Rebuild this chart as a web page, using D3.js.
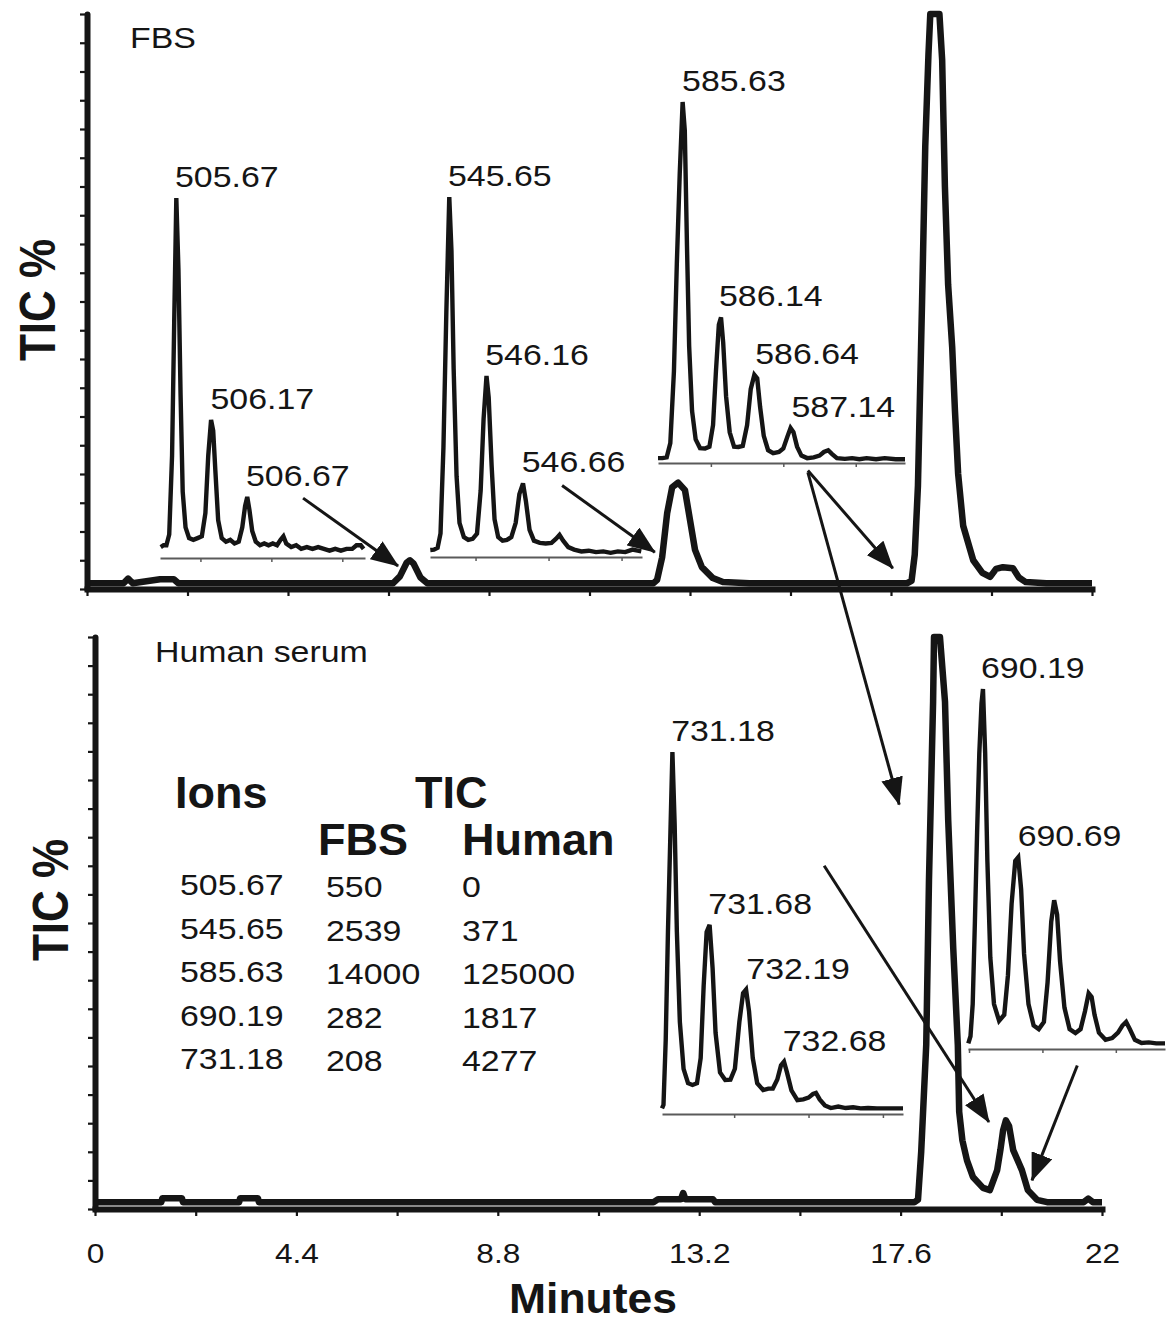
<!DOCTYPE html>
<html><head><meta charset="utf-8">
<script src="https://cdn.jsdelivr.net/npm/d3@7"></script>
<style>html,body{margin:0;padding:0;background:#fff}svg{display:block}text{font-family:"Liberation Sans",Arial,sans-serif;fill:#151515}</style>
</head><body>
<script>
// ---------------- DATA ----------------
const xTickValues = [0, 2.2, 4.4, 6.6, 8.8, 11, 13.2, 15.4, 17.6, 19.8, 22];
const xTickLabels = ['0', '4.4', '8.8', '13.2', '17.6', '22'];
const xLabeledValues = [0, 4.4, 8.8, 13.2, 17.6, 22];
const yTickValues = [0,5,10,15,20,25,30,35,40,45,50,55,60,65,70,75,80,85,90,95,100];

// chromatograms: [minutes, TIC %]
const fbsChrom = [[0,1],[0.8,1],[0.9,1.8],[1.0,1],[1.6,1.7],[1.9,1.7],[2.0,1],[6.7,1],[6.85,2.2],[7.0,4.6],[7.07,5.0],[7.15,4.4],[7.3,2.0],[7.45,1],[12.4,1],[12.48,1.6],[12.59,5.5],[12.70,13.2],[12.81,17.7],[12.94,18.5],[13.09,17.2],[13.20,12],[13.31,6.8],[13.46,3.8],[13.70,1.9],[13.92,1.2],[14.5,1],[17.95,1],[18.05,1.4],[18.12,6],[18.19,18],[18.28,50],[18.35,77],[18.42,93],[18.46,100],[18.66,100],[18.72,92],[18.78,70],[18.85,53],[18.94,42],[19.0,31],[19.07,20],[19.18,11],[19.4,5],[19.6,2.8],[19.77,2.1],[19.9,3.5],[20.05,3.8],[20.27,3.6],[20.4,2],[20.55,1.2],[21.0,1],[22,1]];
const humanChrom = [[0,1.2],[1.45,1.2],[1.47,1.9],[1.9,1.9],[1.92,1.2],[3.15,1.2],[3.17,1.9],[3.56,1.9],[3.58,1.2],[12.2,1.2],[12.3,1.7],[12.8,1.7],[12.85,2.8],[12.9,1.7],[13.5,1.7],[13.55,1.2],[17.9,1.2],[17.98,1.6],[18.05,10],[18.16,28.7],[18.22,57.5],[18.31,88.7],[18.33,100],[18.46,100],[18.57,88.7],[18.64,68],[18.75,45.6],[18.85,28.7],[18.88,17],[18.95,12],[19.05,8.5],[19.18,5.6],[19.40,3.7],[19.55,3.3],[19.71,6.8],[19.78,10.3],[19.84,13.8],[19.90,15.5],[19.97,14.5],[20.06,10.3],[20.25,6.8],[20.38,3.3],[20.58,1.6],[20.8,1.2],[21.6,1.2],[21.7,1.8],[21.8,1.2],[22,1.2]];

// mass spectra insets: [m/z, relative intensity]
const spec505 = [[505.44,2.5],[505.48,3],[505.52,3],[505.56,6],[505.60,28],[505.63,65],[505.66,100],[505.69,80],[505.72,45],[505.75,18],[505.79,8],[505.84,5],[505.90,4.5],[505.96,5],[506.02,5.5],[506.07,12],[506.11,28],[506.15,38],[506.18,35],[506.21,24],[506.25,10],[506.30,5],[506.36,4],[506.42,4.5],[506.48,3.5],[506.54,4],[506.59,8],[506.63,14],[506.66,16.5],[506.69,13],[506.73,7],[506.78,4],[506.84,3],[506.90,3.5],[506.96,3],[507.02,3.5],[507.08,3],[507.13,4.5],[507.17,5.5],[507.21,3.5],[507.28,2.5],[507.35,3],[507.42,2],[507.50,2.5],[507.58,2],[507.66,2.5],[507.74,2],[507.82,1.5],[507.90,2],[507.98,1.5],[508.06,2],[508.14,2],[508.20,3],[508.26,3],[508.30,2]];
const spec545 = [[545.38,1.4],[545.43,1.5],[545.48,2],[545.52,6],[545.56,30],[545.60,68],[545.64,100],[545.67,85],[545.70,52],[545.74,22],[545.78,9],[545.84,5],[545.90,4.2],[545.96,4.5],[546.02,6],[546.07,18],[546.11,38],[546.15,50],[546.18,44],[546.22,25],[546.26,10],[546.31,5],[546.37,4],[546.43,4.2],[546.49,5],[546.55,9],[546.60,17],[546.65,20],[546.69,15],[546.74,7],[546.80,4],[546.88,3.4],[546.96,3.2],[547.04,3.4],[547.10,4.5],[547.15,5.6],[547.20,4],[547.27,2.2],[547.35,1.5],[547.45,1],[547.55,1.2],[547.65,0.8],[547.75,1],[547.85,0.6],[547.95,1.0],[548.05,0.8],[548.15,1.5],[548.22,1.2],[548.27,1]];
const spec585 = [[585.27,0.8],[585.33,0.8],[585.39,1],[585.44,5],[585.49,25],[585.53,55],[585.57,80],[585.61,100],[585.64,92],[585.67,60],[585.70,32],[585.74,14],[585.79,6],[585.85,3.6],[585.92,3.5],[585.98,4],[586.03,10],[586.07,25],[586.11,38],[586.14,40],[586.17,33],[586.21,18],[586.26,8],[586.32,4],[586.38,3.9],[586.44,4.2],[586.50,10],[586.55,20],[586.60,24],[586.64,23],[586.68,15],[586.73,7],[586.79,3],[586.86,2.2],[586.94,2.5],[587.00,3.5],[587.06,7],[587.10,9.2],[587.14,8],[587.19,4],[587.25,1.5],[587.33,0.8],[587.42,1],[587.50,1.5],[587.56,2.5],[587.62,3],[587.67,2],[587.74,0.8],[587.85,0.6],[587.95,0.8],[588.05,0.5],[588.15,0.8],[588.28,0.5],[588.40,0.8],[588.55,0.5],[588.68,0.5]];
const spec731 = [[731.03,1],[731.05,2],[731.08,20],[731.11,50],[731.14,75],[731.17,100],[731.20,80],[731.23,50],[731.27,25],[731.32,12],[731.38,8],[731.44,7.5],[731.50,8],[731.55,15],[731.59,35],[731.63,50],[731.67,52],[731.71,40],[731.75,22],[731.81,11],[731.88,8.9],[731.95,9],[732.01,12],[732.07,25],[732.12,33],[732.16,34],[732.20,28],[732.25,15],[732.31,8],[732.39,6.1],[732.46,6.5],[732.52,6.5],[732.58,9],[732.63,13],[732.67,14],[732.71,11],[732.77,6],[732.85,3.3],[732.93,3.5],[733.00,4],[733.06,5],[733.10,5.3],[733.15,3.5],[733.22,1.8],[733.30,1.1],[733.40,1.5],[733.50,1.1],[733.60,1.3],[733.70,1.0],[733.80,1.1],[733.92,1],[734.05,1],[734.27,1]];
const spec690 = [[689.99,1],[690.02,3],[690.05,12],[690.08,35],[690.11,60],[690.14,82],[690.17,96],[690.19,100],[690.22,82],[690.25,52],[690.29,25],[690.34,12],[690.41,7.3],[690.48,9],[690.53,20],[690.58,40],[690.63,52],[690.67,53],[690.71,44],[690.75,26],[690.81,12],[690.88,6],[690.95,5],[691.02,7],[691.07,18],[691.12,35],[691.16,41],[691.20,37],[691.24,24],[691.30,11],[691.37,5],[691.45,3.9],[691.52,5],[691.58,10],[691.63,15],[691.67,14],[691.71,9],[691.77,4],[691.86,2],[691.95,2.5],[692.03,4],[692.09,6],[692.14,7],[692.19,5],[692.26,2],[692.35,1.1],[692.45,1.3],[692.55,1],[692.67,1]];

// peak labels per inset: [m/z at peak, intensity at peak, text]
const labels505 = [[505.67,100,'505.67'],[506.17,38,'506.17'],[506.67,16.5,'506.67']];
const labels545 = [[545.65,100,'545.65'],[546.16,50,'546.16'],[546.66,20,'546.66']];
const labels585 = [[585.63,100,'585.63'],[586.14,40,'586.14'],[586.64,24,'586.64'],[587.14,9.2,'587.14']];
const labels731 = [[731.18,100,'731.18'],[731.68,52,'731.68'],[732.19,34,'732.19'],[732.68,14,'732.68']];
const labels690 = [[690.19,100,'690.19'],[690.69,53,'690.69']];

// TIC table
const tableIons = ['505.67','545.65','585.63','690.19','731.18'];
const tableFBS = ['550','2539','14000','282','208'];
const tableHuman = ['0','371','125000','1817','4277'];

// arrows (panel data coordinates: [minutes, TIC %])
const arrows = [
  {from:['top',4.73,15.8], to:['top',6.81,4.0]},
  {from:['top',10.40,18.0], to:['top',12.43,6.4]},
  {from:['top',15.78,20.6], to:['top',17.64,3.6]},
  {from:['top',15.78,20.3], to:['bot',17.57,70.7]},
  {from:['bot',15.93,60.0], to:['bot',19.53,15.2]},
  {from:['bot',21.46,25.1], to:['bot',20.47,5.0]}
];

// ---------------- LAYOUT ----------------
const W = 1168, H = 1323, SX = 1.13;
const INK = '#151515';
const svg = d3.select('body').append('svg').attr('width', W).attr('height', H);

const panels = {
  top: {x: d3.scaleLinear().domain([0,22]).range([87,1092]), y: d3.scaleLinear().domain([0,100]).range([589,14])},
  bot: {x: d3.scaleLinear().domain([0,22]).range([95,1102]), y: d3.scaleLinear().domain([0,100]).range([1209,637])}
};

svg.append('defs').append('marker')
  .attr('id','ah').attr('viewBox','0 0 28 22').attr('refX',27).attr('refY',11)
  .attr('markerWidth',28).attr('markerHeight',22).attr('markerUnits','userSpaceOnUse').attr('orient','auto')
  .append('path').attr('d','M0,0 L28,11 L0,22 Z').attr('fill',INK);

function txt(x, y, s, o = {}) {
  const size = o.size || 30, weight = o.weight || 'normal', anchor = o.anchor || 'start', sx = o.sx || SX;
  return svg.append('text')
    .attr('transform', `translate(${x},${y}) scale(${sx},1)` + (o.rot ? ` rotate(${o.rot})` : ''))
    .attr('font-size', size).attr('font-weight', weight).attr('text-anchor', anchor).text(s);
}

function drawPanel(p, data, showLabels) {
  svg.append('path').datum(data)
    .attr('d', d3.line().x(d => p.x(d[0])).y(d => p.y(d[1])))
    .attr('fill','none').attr('stroke',INK).attr('stroke-width',6.5).attr('stroke-linejoin','round');
  const xa = svg.append('g').attr('transform', `translate(0,${p.y(0)})`)
    .call(d3.axisBottom(p.x).tickValues(xTickValues).tickSize(7).tickSizeOuter(0)
      .tickFormat(d => { const i = xLabeledValues.findIndex(v => Math.abs(v - d) < 1e-6); return showLabels && i >= 0 ? xTickLabels[i] : ''; }));
  xa.select('.domain').attr('stroke',INK).attr('stroke-width',6).attr('stroke-linecap','square');
  xa.selectAll('.tick line').attr('stroke',INK).attr('stroke-width',2.2);
  xa.selectAll('.tick text').attr('y',54).attr('dy',0).attr('font-size',28).attr('fill',INK)
    .attr('transform',`scale(${SX},1)`).attr('font-family','"Liberation Sans",Arial,sans-serif');
  const ya = svg.append('g').attr('transform', `translate(${p.x(0)},0)`)
    .call(d3.axisLeft(p.y).tickValues(yTickValues).tickSize(7).tickSizeOuter(0).tickFormat(''));
  ya.select('.domain').attr('stroke',INK).attr('stroke-width',6).attr('stroke-linecap','round');
  ya.selectAll('.tick line').attr('stroke',INK).attr('stroke-width',2.2);
}

drawPanel(panels.top, fbsChrom, false);
drawPanel(panels.bot, humanChrom, true);

function inset(data, labels, mzDom, xr, yr) {
  const x = d3.scaleLinear().domain(mzDom).range(xr);
  const y = d3.scaleLinear().domain([0,100]).range(yr);
  const ag = svg.append('g').attr('transform', `translate(0,${y(0)+2})`)
    .call(d3.axisBottom(x).tickValues(d3.range(Math.ceil(mzDom[0]), Math.floor(mzDom[1]) + 1)).tickSize(4).tickSizeOuter(0).tickFormat(''));
  ag.select('.domain').attr('stroke','#5a5a5a').attr('stroke-width',2);
  ag.selectAll('.tick line').attr('stroke','#5a5a5a').attr('stroke-width',1.5);
  svg.append('path').datum(data)
    .attr('d', d3.line().x(d => x(d[0])).y(d => y(d[1])))
    .attr('fill','none').attr('stroke',INK).attr('stroke-width',4.4).attr('stroke-linejoin','miter');
  labels.forEach(l => txt(x(l[0]) - 2, y(l[1]) - 11, l[2]));
}
inset(spec505, labels505, [505.43, 508.32], [160, 365], [556, 198]);
inset(spec545, labels545, [545.376, 548.28], [430, 642], [555, 197]);
inset(spec585, labels585, [585.27, 588.68], [658, 905], [461, 102]);
inset(spec731, labels731, [731.03, 734.27], [662, 903], [1112, 752]);
inset(spec690, labels690, [689.986, 692.67], [968, 1165], [1047, 689]);

const pt = a => [panels[a[0]].x(a[1]), panels[a[0]].y(a[2])];
arrows.forEach(a => {
  const f = pt(a.from), t = pt(a.to);
  svg.append('line').attr('x1',f[0]).attr('y1',f[1]).attr('x2',t[0]).attr('y2',t[1])
    .attr('stroke',INK).attr('stroke-width',3).attr('marker-end','url(#ah)');
});

txt(130, 48, 'FBS');
txt(155, 662, 'Human serum');
txt(55, 300, 'TIC %', {size:44, weight:'bold', anchor:'middle', rot:-90});
txt(68, 900, 'TIC %', {size:44, weight:'bold', anchor:'middle', rot:-90});
txt(593, 1313, 'Minutes', {size:42, weight:'bold', anchor:'middle', sx:1.06});

txt(175, 808, 'Ions', {size:45, weight:'bold', sx:1});
txt(415, 808, 'TIC', {size:45, weight:'bold', sx:1});
txt(318, 855, 'FBS', {size:45, weight:'bold', sx:1});
txt(462, 855, 'Human', {size:45, weight:'bold', sx:1});
const rowY = d3.scaleLinear().domain([0, 4]).range([895, 1069]);
tableIons.forEach((s, i) => txt(180, rowY(i), s));
tableFBS.forEach((s, i) => txt(326, rowY(i) + 2, s));
tableHuman.forEach((s, i) => txt(462, rowY(i) + 2, s));
</script>
</body></html>
